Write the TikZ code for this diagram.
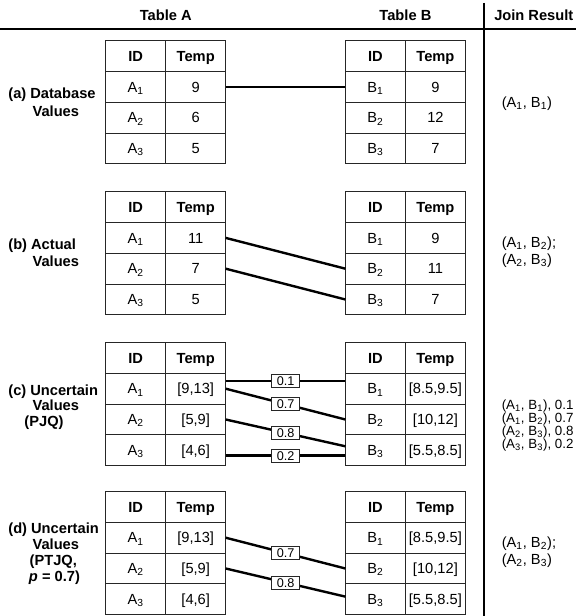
\documentclass[tikz,border=0pt]{standalone}
\usepackage{fontspec}
\setmainfont{Liberation Sans}
\begin{document}
\begin{tikzpicture}[x=0.75pt,y=-0.75pt,
  cell/.style={draw=black!85, line width=0.8pt, minimum width=45pt, minimum height=23.1pt,
    inner sep=0pt, outer sep=0pt, text height=7.9pt, text depth=0pt,
    font=\fontsize{11}{13}\selectfont},
  hcell/.style={cell, font=\fontsize{11}{13}\selectfont\bfseries},
  link/.style={line width=1.8pt},
  prob/.style={draw=black!85, line width=0.6pt, fill=white, minimum width=21pt,
    minimum height=10pt, inner sep=0pt, text height=6.8pt, text depth=0pt,
    font=\fontsize{9.5}{11}\selectfont},
  rowlbl/.style={anchor=base west, inner sep=0pt, font=\fontsize{11}{13}\selectfont\bfseries},
  res/.style={anchor=base west, inner sep=0pt, font=\fontsize{11}{13}\selectfont},
  smallres/.style={res, font=\fontsize{10}{12}\selectfont},
  head/.style={anchor=base, inner sep=0pt, font=\fontsize{11}{13}\selectfont\bfseries},
  rule/.style={line width=1pt}
]
\useasboundingbox (0,0) rectangle (576,616);

% #1 name prefix, #2 left x, #3 top y, #4 id letter, #5 temperature values
\newcommand\mktable[5]{%
  \node[hcell] (#1h) at (#2+30,#3+15.4) {ID};
  \node[hcell] (#1t) at (#2+90,#3+15.4) {Temp};
  \foreach \tv [count=\i] in {#5} {
    \node[cell] (#1\i id) at (#2+30,#3+15.4+30.8*\i) {#4\textsubscript{\i}};
    \node[cell] (#1\i) at (#2+90,#3+15.4+30.8*\i) {\tv};
  }%
}

% column headings and rules
\node[head] (hA) at (165.7,20.3) {Table A};
\node[head] (hB) at (405.4,20.3) {Table B};
\node[head,anchor=base west] (hJ) at (494,20.3) {Join Result};
\coordinate (ruleL) at (0,29);
\coordinate (ruleR) at (576,29);
\coordinate (vtop) at (484,3);
\coordinate (vbot) at (484,616);
\draw[rule] (ruleL) -- (ruleR);
\draw[rule] (vtop) -- (vbot);

% (a) database values
\mktable{aA}{105.7}{40.7}{A}{9,6,5}
\mktable{aB}{345.4}{40.7}{B}{9,12,7}
\draw[link] (aA1.east) -- (aB1id.west);
\node[rowlbl] (la1) at (8.1,98.6) {(a) Database};
\node[rowlbl] (la2) at (32.3,116.3) {Values};
\node[res] (ra1) at (501.5,107.3) {(A\textsubscript{1}, B\textsubscript{1})};

% (b) actual values
\mktable{bA}{105.7}{191.7}{A}{11,7,5}
\mktable{bB}{345.4}{191.7}{B}{9,11,7}
\draw[link] (bA1.east) -- (bB2id.west);
\draw[link] (bA2.east) -- (bB3id.west);
\node[rowlbl] (lb1) at (8.1,249.3) {(b) Actual};
\node[rowlbl] (lb2) at (32.3,267) {Values};
\node[res] (rb1) at (501.5,247.3) {(A\textsubscript{1}, B\textsubscript{2});};
\node[res] (rb2) at (501.5,264.8) {(A\textsubscript{2}, B\textsubscript{3})};

% (c) uncertain values, PJQ
\mktable{cA}{105.7}{342.5}{A}{{[9,13]},{[5,9]},{[4,6]}}
\mktable{cB}{345.4}{342.5}{B}{{[8.5,9.5]},{[10,12]},{[5.5,8.5]}}
\draw[link] ([yshift=6pt]cA1.east) -- node[prob] (pc1) {0.1} ([yshift=6pt]cB1id.west);
\draw[link] (cA1.east) -- node[prob] (pc2) {0.7} (cB2id.west);
\draw[link] (cA2.east) -- node[prob] (pc3) {0.8} ([yshift=3pt]cB3id.west);
\draw[link] ([yshift=-4pt]cA3.east) -- node[prob] (pc4) {0.2} ([yshift=-4pt]cB3id.west);
\node[rowlbl] (lc1) at (8.1,395.3) {(c) Uncertain};
\node[rowlbl] (lc2) at (32.3,410.8) {Values};
\node[rowlbl] (lc3) at (24.2,426.3) {(PJQ)};
\node[smallres] (rc1) at (501.5,409.8) {(A\textsubscript{1}, B\textsubscript{1}), 0.1};
\node[smallres] (rc2) at (501.5,422.8) {(A\textsubscript{1}, B\textsubscript{2}), 0.7};
\node[smallres] (rc3) at (501.5,435.8) {(A\textsubscript{2}, B\textsubscript{3}), 0.8};
\node[smallres] (rc4) at (501.5,448.8) {(A\textsubscript{3}, B\textsubscript{3}), 0.2};

% (d) uncertain values, PTJQ with threshold
\mktable{dA}{105.7}{491.5}{A}{{[9,13]},{[5,9]},{[4,6]}}
\mktable{dB}{345.4}{491.5}{B}{{[8.5,9.5]},{[10,12]},{[5.5,8.5]}}
\draw[link] (dA1.east) -- node[prob] (pd1) {0.7} (dB2id.west);
\draw[link] (dA2.east) -- node[prob] (pd2) {0.8} ([yshift=2pt]dB3id.west);
\node[rowlbl] (ld1) at (8.1,533.8) {(d) Uncertain};
\node[rowlbl] (ld2) at (32.3,549.8) {Values};
\node[rowlbl] (ld3) at (29.4,565.8) {(PTJQ,};
\node[rowlbl] (ld4) at (28.7,581.8) {\textit{p} = 0.7)};
\node[res] (rd1) at (501.5,547.3) {(A\textsubscript{1}, B\textsubscript{2});};
\node[res] (rd2) at (501.5,564.8) {(A\textsubscript{2}, B\textsubscript{3})};
\end{tikzpicture}
\end{document}
